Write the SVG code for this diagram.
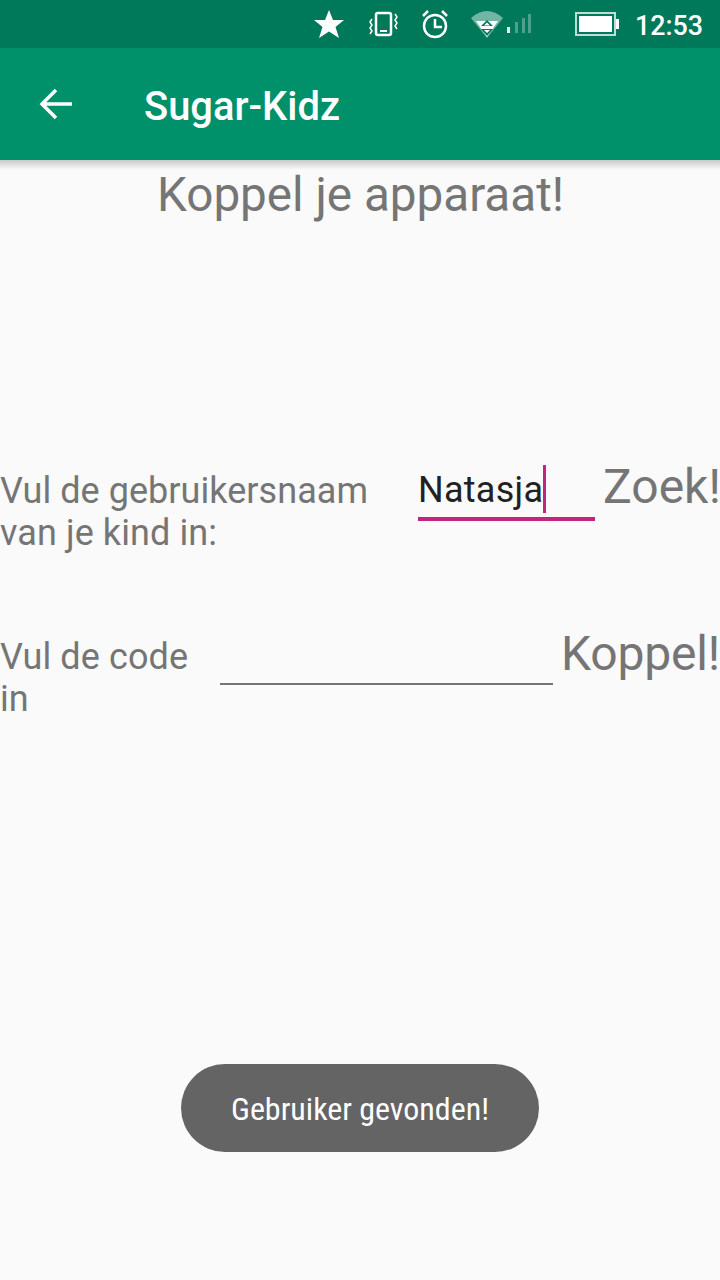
<svg xmlns="http://www.w3.org/2000/svg" width="720" height="1280" viewBox="0 0 720 1280">
<defs>
<linearGradient id="sh" x1="0" y1="0" x2="0" y2="1"><stop offset="0" stop-color="#000" stop-opacity=".2"/><stop offset="1" stop-color="#000" stop-opacity="0"/></linearGradient>
</defs>
<style>
text{font-family:Roboto,"Liberation Sans",sans-serif}
.g{fill:#757575}
.l{font-size:36px}
.b{font-size:48px}
.w{fill:#fff}
.i{fill:none;stroke:#fff;stroke-width:2.5}
</style>
<rect width="720" height="1280" fill="#fafafa"/>
<g id="statusbar">
<rect width="720" height="48" fill="#00785a"/>
<polygon class="w" points="329,10 333,20 344,20 335.500,27 339,38 329,31.500 319,38 322.500,27 314,20 325,20"/>
<rect x="376" y="13" width="15" height="22" rx="2" fill="none" stroke="#fff" stroke-width="2.500"/>
<rect x="380" y="30" width="7" height="2" fill="#fff"/>
<path d="M372 19l-2 3 2 3-2 3 2 3-2 3M395 14l2 3-2 3 2 3-2 3 2 3" fill="none" stroke="#fff" stroke-width="1.500"/>
<circle cx="435" cy="26" r="11" class="i"/>
<path d="M435 19v8h7" class="i" stroke-width="2"/>
<path d="M423 16l5-5M447 16l-5-5" class="i" stroke-width="3"/>
<path d="M471 18Q487 4 503 18L487 38Z" fill="#fff" fill-opacity=".45"/>
<path d="M476 21H498L487 37Z" fill="#fff"/>
<path d="M487 20l-6 6h12zM487 36l-6-7h12z" fill="#00785a"/>
<path d="M487 22.500l-3 3h6zM487 33l-3-3h6z" fill="#fff"/>
<rect x="507" y="27" width="3" height="6" fill="#fff" fill-opacity=".9"/>
<rect x="515" y="22" width="3" height="11" fill="#fff" fill-opacity=".3"/>
<rect x="522" y="18" width="3" height="15" fill="#fff" fill-opacity=".3"/>
<rect x="528" y="14" width="3" height="19" fill="#fff" fill-opacity=".3"/>
<rect x="576" y="13" width="39" height="22" fill="none" stroke="#fff" stroke-opacity=".75" stroke-width="2"/>
<rect x="579" y="16" width="33" height="16" fill="#fff"/>
<rect x="616" y="19" width="3" height="10" fill="#fff"/>
<text x="635" y="35" class="w" font-size="28" font-weight="500" textLength="68" lengthAdjust="spacingAndGlyphs">12:53</text>
</g>
<g id="appbar">
<rect y="160" width="720" height="10" fill="url(#sh)"/>
<rect y="48" width="720" height="112" fill="#00916b"/>
<path d="M72 104H42M56 90L42 104L56 118" fill="none" stroke="#fff" stroke-width="3.500"/>
<text x="144" y="120" class="w" font-size="40" font-weight="500" textLength="196" lengthAdjust="spacingAndGlyphs">Sugar-Kidz</text>
</g>
<g id="content">
<text x="157" y="211" class="g" font-size="48" textLength="407" lengthAdjust="spacingAndGlyphs">Koppel je apparaat!</text>
<text x="0" y="503" class="g l" textLength="368">Vul de gebruikersnaam</text>
<text x="0" y="545" class="g l" textLength="217">van je kind in:</text>
<text x="418" y="502" font-size="36" fill="#212121" textLength="125">Natasja</text>
<rect x="543" y="465" width="3" height="48" fill="#c2247f"/>
<rect x="418" y="517" width="177" height="4" fill="#c2247f"/>
<text x="603" y="503" class="g b">Zoek!</text>
<text x="0" y="669" class="g l" textLength="188">Vul de code</text>
<text x="0" y="711" class="g l">in</text>
<rect x="220" y="683" width="333" height="2" fill="#757575"/>
<text x="561" y="670" class="g b" textLength="159">Koppel!</text>
</g>
<g id="toast">
<rect x="181" y="1064" width="358" height="88" rx="44" fill="#646464"/>
<text x="360" y="1120" text-anchor="middle" font-size="32" fill="#fff" style="font-stretch:condensed" textLength="258" lengthAdjust="spacingAndGlyphs">Gebruiker gevonden!</text>
</g>
</svg>
